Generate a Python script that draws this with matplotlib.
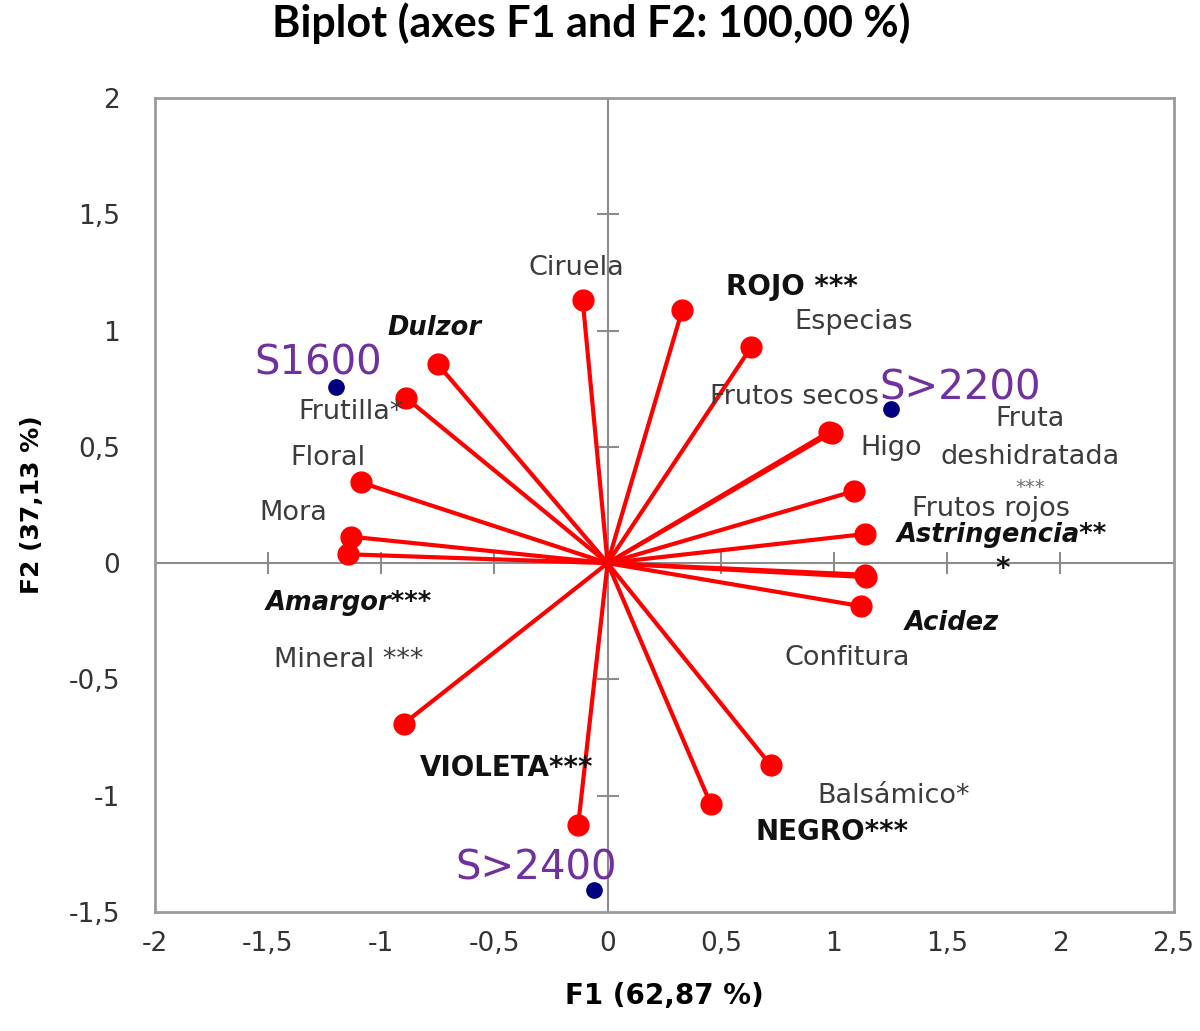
import numpy as np
import matplotlib.pyplot as plt
from matplotlib.ticker import FuncFormatter

# Variables (vectores rojos): coordenadas F1, F2
var_names = ['Ciruela', 'ROJO', 'Especias', 'Dulzor', 'Frutilla', 'Frutos secos',
             'Higo', 'Fruta deshidratada', 'Frutos rojos', 'Astringencia', 'Floral',
             'Mora', 'Amargor', 'Mineral', 'Acidez', 'Confitura', 'VIOLETA',
             'Balsamico', 'NEGRO']
var_f1 = [-0.11, 0.33, 0.635, -0.75, -0.89, 0.98, 0.99, 1.09, 1.135, 1.135, -1.09,
          -1.135, -1.145, -0.90, 1.12, 1.14, -0.13, 0.72, 0.455]
var_f2 = [1.13, 1.09, 0.93, 0.855, 0.71, 0.565, 0.56, 0.31, 0.125, -0.05, 0.347,
          0.114, 0.038, -0.69, -0.185, -0.06, -1.126, -0.868, -1.035]

# Observaciones (puntos azules)
obs_names = ['S1600', 'S>2200', 'S>2400']
obs_f1 = [-1.20, 1.25, -0.06]
obs_f2 = [0.757, 0.662, -1.405]

# Etiquetas: texto, posicion (x, y), estilo
var_labels = [
    ('Ciruela', -0.136, 1.268, 'normal'),
    ('ROJO ***', 0.815, 1.186, 'bold'),
    ('Especias', 1.089, 1.035, 'normal'),
    ('Dulzor', -0.766, 1.01, 'bolditalic'),
    ('Frutilla*', -1.134, 0.649, 'normal'),
    ('Frutos secos', 0.825, 0.714, 'normal'),
    ('Fruta', 1.866, 0.619, 'normal'),
    ('deshidratada', 1.866, 0.456, 'normal'),
    ('***', 1.866, 0.327, 'small'),
    ('Higo', 1.252, 0.494, 'normal'),
    ('Floral', -1.237, 0.451, 'normal'),
    ('Frutos rojos', 1.695, 0.234, 'normal'),
    ('Mora', -1.39, 0.215, 'normal'),
    ('Astringencia**', 1.743, 0.12, 'bolditalic'),
    ('*', 1.743, -0.026, 'bold'),
    ('Amargor***', -1.142, -0.172, 'bolditalic'),
    ('Acidez', 1.522, -0.258, 'bolditalic'),
    ('Mineral ***', -1.142, -0.417, 'normal'),
    ('Confitura', 1.059, -0.408, 'normal'),
    ('VIOLETA***', -0.448, -0.881, 'bold'),
    ('Balsámico*', 1.262, -1.001, 'normal'),
    ('NEGRO***', 0.991, -1.156, 'bold'),
]
obs_label_pos = [(-1.28, 0.86), (1.556, 0.752), (-0.316, -1.311)]

x_ticks = np.arange(-2, 2.51, 0.5)
y_ticks = np.arange(-1.5, 2.01, 0.5)

fig = plt.figure(figsize=(12, 10.31), dpi=100)
ax = fig.add_axes([0.129, 0.1154, 0.849, 0.7896])

# Ejes centrales con marcas
ax.axhline(0, color='#8c8c8c', lw=1.5, zorder=1)
ax.axvline(0, color='#8c8c8c', lw=1.5, zorder=1)
xt = [t for t in x_ticks if abs(t) > 1e-9 and -2 < t < 2.5]
yt = [t for t in y_ticks if abs(t) > 1e-9 and -1.5 < t < 2]
ax.plot(xt, np.zeros(len(xt)), ls='none', marker='|', ms=16, mew=1.5, color='#8c8c8c', zorder=1)
ax.plot(np.zeros(len(yt)), yt, ls='none', marker='_', ms=16, mew=1.5, color='#8c8c8c', zorder=1)

# Vectores
for f1, f2 in zip(var_f1, var_f2):
    ax.plot([0, f1], [0, f2], color='red', lw=3, zorder=2)
ax.plot(var_f1, var_f2, 'o', color='red', ms=15, zorder=3)

# Observaciones
ax.plot(obs_f1, obs_f2, 'o', color='#000080', ms=11, zorder=4)
for name, (lx, ly) in zip(obs_names, obs_label_pos):
    ax.text(lx, ly, name, color='#7030a0', fontsize=29, ha='center', va='center',
            family='DejaVu Sans', zorder=5)

styles = {
    'normal': dict(color='#3c3c3c', fontsize=19.5, family='DejaVu Sans'),
    'small': dict(color='#707070', fontsize=14, family='DejaVu Sans'),
    'bold': dict(color='#111111', fontsize=20, family='DejaVu Sans', fontweight='bold'),
    'bolditalic': dict(color='#111111', fontsize=18.5, family='DejaVu Sans',
                       fontweight='bold', fontstyle='italic'),
}
for txt, lx, ly, st in var_labels:
    ax.text(lx, ly, txt, ha='center', va='center', zorder=5, **styles[st])

ax.set_xlim(-2, 2.5)
ax.set_ylim(-1.5, 2)
ax.set_xticks(x_ticks)
ax.set_yticks(y_ticks)
fmt = FuncFormatter(lambda v, p: '{:g}'.format(round(v, 2)).replace('.', ','))
ax.xaxis.set_major_formatter(fmt)
ax.yaxis.set_major_formatter(fmt)
ax.tick_params(length=0, labelsize=19, colors='#333333')
ax.tick_params(axis='y', pad=25)
ax.tick_params(axis='x', pad=14)
for sp in ax.spines.values():
    sp.set_color('#9a9a9a')
    sp.set_linewidth(2)

ax.set_xlabel('F1 (62,87 %)', fontsize=20, fontweight='bold', family='DejaVu Sans', labelpad=18)
ax.set_ylabel('F2 (37,13 %)', fontsize=18, fontweight='bold', family='DejaVu Sans', labelpad=18)
fig.text(0.4925, 0.978, 'Biplot (axes F1 and F2: 100,00 %)', ha='center', va='center',
         fontsize=31, fontweight='bold', family='Lato')

fig.savefig('out.png', dpi=100)
